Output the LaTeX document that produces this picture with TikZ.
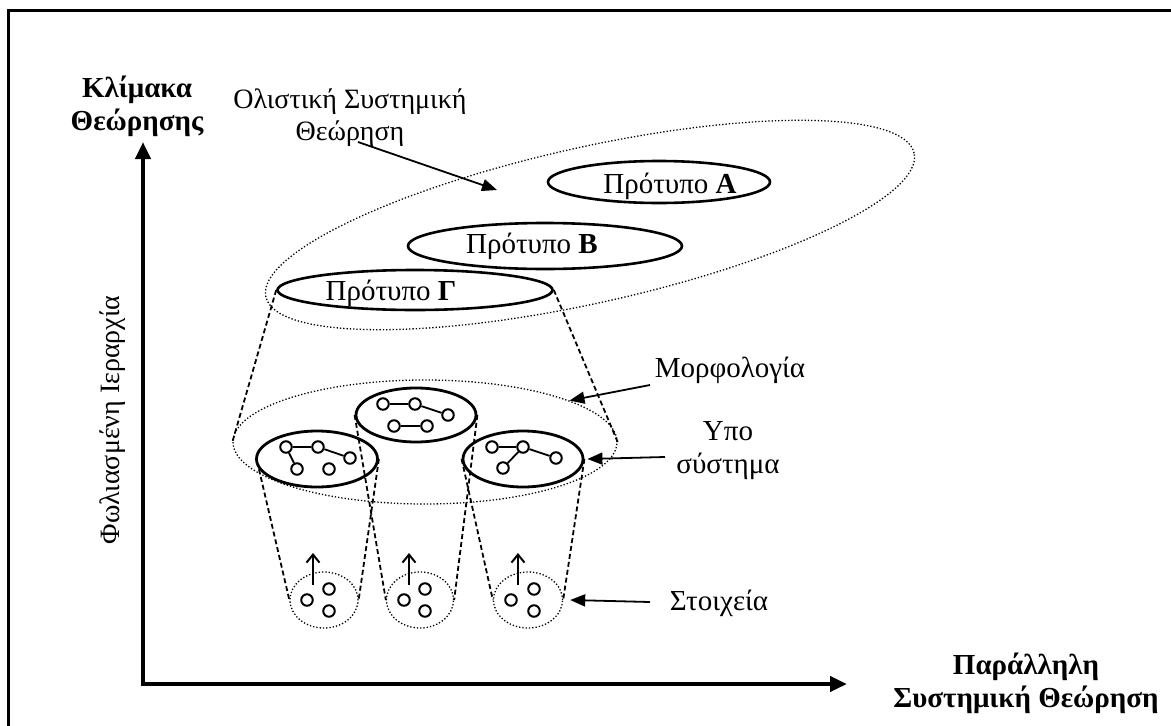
\documentclass[tikz,border=0pt]{standalone}
\usepackage{fontspec}
\setmainfont{Liberation Serif}
\usetikzlibrary{arrows.meta, positioning, calc, shapes.geometric}

\begin{document}
\begin{tikzpicture}[
    x=1pt, y=-1pt,
    every node/.style={font=\fontsize{29}{33}\selectfont, inner sep=0pt},
    lab/.style={align=center},
    boldlab/.style={align=center, font=\fontsize{29}{33}\selectfont\bfseries},
    proto/.style={
        ellipse,
        draw,
        line width=2.6pt
    },
    holo/.style={
        ellipse,
        draw,
        dotted,
        line width=1.3pt
    },
    sub/.style={
        ellipse,
        draw,
        line width=2.8pt
    },
    vtx/.style={
        circle,
        draw,
        line width=2pt,
        minimum size=11.5pt
    },
    cone/.style={
        line width=1.8pt,
        dash pattern=on 5pt off 3pt
    },
    arrow/.style={
        -{Triangle[length=15pt,width=12pt]},
        line width=1.8pt
    },
    axis/.style={
        -{Triangle[length=17pt,width=15pt]},
        line width=4.5pt
    },
    up/.style={
        -{Straight Barb[length=8pt,width=13pt]},
        line width=2pt
    }
]
\useasboundingbox (0,0) rectangle (1171,726);
\clip (0,0) rectangle (1171,726);
\draw[line width=3pt] (8,10) rectangle (1190,745);

% axes
\coordinate (origin) at (143,684);
\coordinate (ytop) at (143,142);
\coordinate (xend) at (847,684);
\draw[axis] ([yshift=-2.25pt]origin) -- (ytop);
\draw[axis] ([xshift=-2.25pt]origin) -- (xend);
\node[boldlab] (scale) at (137,106) {Κλίμακα\\Θεώρησης};
\node[boldlab] (parallel) at (1026,683) {Παράλληλη\\Συστημική Θεώρηση};
\node[lab, rotate=90, font=\fontsize{28}{32}\selectfont] (nested) at (113,420) {Φωλιασμένη Ιεραρχία};

% holistic view
\node[holo, minimum width=664pt, minimum height=156pt, rotate=12.5] (holo) at (590,225) {};
\node[lab, font=\fontsize{28}{32}\selectfont] (holotxt) at (350,118) {Ολιστική Συστημική\\Θεώρηση};
\coordinate (holofoot) at (358,142);
\coordinate (holotip) at (497,190);
\draw[arrow] (holofoot) -- (holotip);

\node[proto, minimum width=222pt, minimum height=42pt] (proA) at (659,182) {};
\node[proto, minimum width=274pt, minimum height=46pt] (proB) at (545,246) {};
\node[proto, minimum width=275pt, minimum height=40pt] (proG) at (415,290) {};
\node[anchor=base] (txtA) at (670,193) {Πρότυπο \textbf{Α}};
\node[anchor=base] (txtB) at (532,253) {Πρότυπο \textbf{Β}};
\node[anchor=base] (txtG) at (391,300) {Πρότυπο \textbf{Γ}};

% morphology
\node[holo, minimum width=384pt, minimum height=124pt] (morph) at (425,442) {};
\draw[cone] (proG.west) -- (morph.west);
\draw[cone] (proG.east) -- (morph.east);
\node[lab] (morftxt) at (730,370) {Μορφολογία};
\coordinate (morffoot) at (650,385);
\draw[arrow] (morffoot) -- (morph.16);

% subsystems
\node[sub, minimum width=121pt, minimum height=56pt] (subL) at (317,459) {};
\node[sub, minimum width=120pt, minimum height=54pt] (subM) at (416,415) {};
\node[sub, minimum width=120pt, minimum height=56pt] (subR) at (523,459) {};
\node[lab] (subtxt) at (728,451) {Υπο\\σύστημα};
\coordinate (subfoot) at (665,457);
\draw[arrow] (subfoot) -- ([xshift=3pt]subR.east);

\node[vtx] (m1) at (383,404) {};
\node[vtx] (m2) at (415,404) {};
\node[vtx] (m3) at (448,415) {};
\node[vtx] (m4) at (394,426) {};
\node[vtx] (m5) at (427,426) {};
\draw[line width=1.8pt] (m1) -- (m2) -- (m3) (m4) -- (m5);
\node[vtx] (l1) at (286,447) {};
\node[vtx] (l2) at (318,447) {};
\node[vtx] (l3) at (350,458) {};
\node[vtx] (l4) at (297,469) {};
\node[vtx] (l5) at (329,469) {};
\draw[line width=1.8pt] (l4) -- (l1) -- (l2) -- (l3);
\node[vtx] (r1) at (492,447) {};
\node[vtx] (r2) at (523,447) {};
\node[vtx] (r3) at (556,458) {};
\node[vtx] (r4) at (503,468) {};
\draw[line width=1.8pt] (r1) -- (r2) -- (r3) (r2) -- (r4);

% elements
\node[holo, minimum width=68pt, minimum height=56pt] (elL) at (324,600) {};
\node[holo, minimum width=67pt, minimum height=56pt] (elM) at (420,600) {};
\node[holo, minimum width=69pt, minimum height=56pt] (elR) at (528,600) {};
\draw[cone] (subL.190) -- (elL.west);
\draw[cone] (subL.east) -- (elL.east);
\draw[cone] (subM.west) -- (elM.west);
\draw[cone] (subM.east) -- (elM.east);
\draw[cone] (subR.west) -- (elR.west);
\draw[cone] (subR.east) -- (elR.east);

\node[vtx] (e1) at (307,600) {};
\node[vtx] (e2) at (329,589) {};
\node[vtx] (e3) at (329,611) {};
\node[vtx] (e4) at (404,600) {};
\node[vtx] (e5) at (425,589) {};
\node[vtx] (e6) at (425,611) {};
\node[vtx] (e7) at (511,600) {};
\node[vtx] (e8) at (534,589) {};
\node[vtx] (e9) at (534,611) {};
\draw[up] ([xshift=-11pt,yshift=15pt]elL.center) -- ++(0,-32);
\draw[up] ([xshift=-11pt,yshift=15pt]elM.center) -- ++(0,-32);
\draw[up] ([xshift=-10pt,yshift=15pt]elR.center) -- ++(0,-32);

\node[lab] (elemtxt) at (719,603) {Στοιχεία};
\coordinate (elemfoot) at (650,602);
\draw[arrow] (elemfoot) -- ([xshift=7pt]elR.east);
\end{tikzpicture}
\end{document}
